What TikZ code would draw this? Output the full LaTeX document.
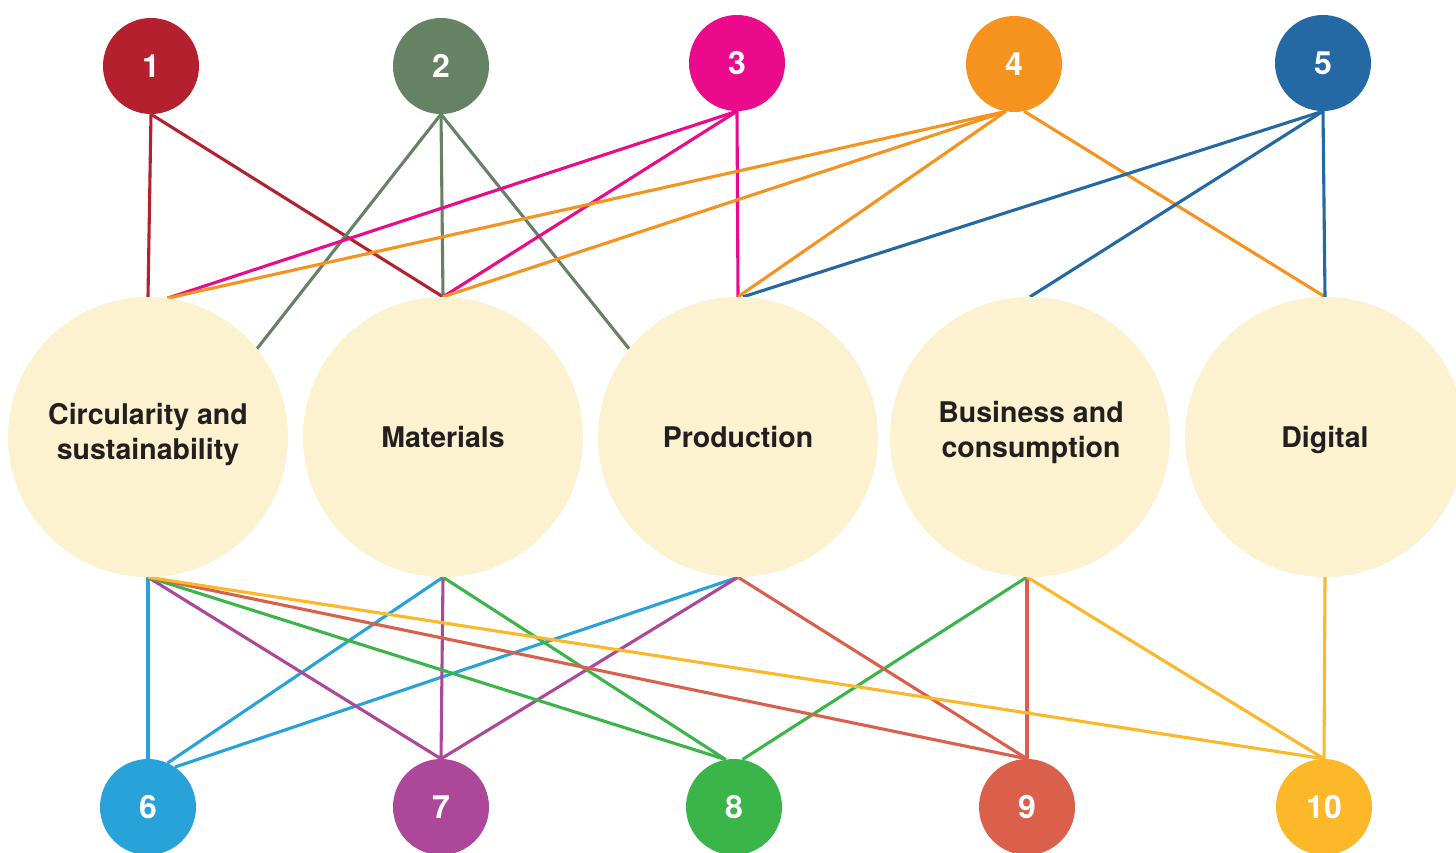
\documentclass[tikz,border=0pt]{standalone}
\usepackage{fontspec}
\setmainfont{TeX Gyre Heros}
\pgfdeclarelayer{bg}
\pgfsetlayers{bg,main}
\definecolor{c1}{HTML}{B5202E}
\definecolor{c2}{HTML}{668264}
\definecolor{c3}{HTML}{EC0A8C}
\definecolor{c4}{HTML}{F6921E}
\definecolor{c5}{HTML}{2468A4}
\definecolor{c6}{HTML}{29A2D9}
\definecolor{c7}{HTML}{AC4799}
\definecolor{c8}{HTML}{3BB44A}
\definecolor{c9}{HTML}{DA604C}
\definecolor{c10}{HTML}{FCB829}
\definecolor{cream}{HTML}{FCF2CF}
\definecolor{txt}{HTML}{231F20}
\tikzset{
  num/.style={circle, minimum size=96pt, inner sep=0pt, text=white,
    font=\fontsize{32}{32}\selectfont\bfseries},
  big/.style={circle, minimum size=280pt, inner sep=0pt, fill=cream},
  lbl/.style={text=txt, align=center, inner sep=0pt,
    font=\fontsize{28.5}{35}\selectfont\bfseries},
  link/.style={line width=3.1pt}
}
\begin{document}
\begin{tikzpicture}[x=1pt,y=-1pt]
\useasboundingbox (0,0) rectangle (1456,852);
% top numbered circles
\node[num, fill=c1] (t1) at (151,66) {1};
\node[num, fill=c2] (t2) at (441,66) {2};
\node[num, fill=c3] (t3) at (737,63) {3};
\node[num, fill=c4] (t4) at (1014,64) {4};
\node[num, fill=c5] (t5) at (1323,63) {5};
% big theme circles
\node[big] (circ) at (148,437) {};
\node[big] (mat) at (443,437) {};
\node[big] (prod) at (738,437) {};
\node[big] (bus) at (1030,437) {};
\node[big] (dig) at (1325,437) {};
\node[lbl] (circT) at (148,434.5) {Circularity and\\sustainability};
\node[lbl] (matT) at (443,437.5) {Materials};
\node[lbl] (prodT) at (738,437.5) {Production};
\node[lbl] (busT) at (1031,432.5) {Business and\\consumption};
\node[lbl] (digT) at (1325,440) {Digital};
% bottom numbered circles
\node[num, fill=c6] (n6) at (148,807) {6};
\node[num, fill=c7] (n7) at (441,807) {7};
\node[num, fill=c8] (n8) at (734,807) {8};
\node[num, fill=c9] (n9) at (1027,807) {9};
\node[num, fill=c10] (n10) at (1324,807) {10};
\coordinate (busS) at (1027,577);
\begin{pgfonlayer}{bg}
\fill[white] (0,0) rectangle (1456,852);
% top links
\draw[link, c1] (t1.south) -- (circ.north);
\draw[link, c1] (t1.south) -- (mat.north);
\draw[link, c2] (t2.south) -- (circ.39);
\draw[link, c2] (t2.south) -- (mat.north);
\draw[link, c2] (t2.south) -- (prod.141);
\draw[link, c3] (t3.south) -- (circ.82);
\draw[link, c3] (t3.south) -- (mat.north);
\draw[link, c3] (t3.south) -- (prod.north);
\draw[link, c4] (t4.-100) -- (circ.82);
\draw[link, c4] (t4.-100) -- (mat.north);
\draw[link, c4] (t4.-100) -- (prod.north);
\draw[link, c4] (t4.-78) -- (dig.north);
\draw[link, c5] (t5.south) -- (prod.88);
\draw[link, c5] (t5.south) -- (bus.north);
\draw[link, c5] (t5.south) -- (dig.north);
% bottom links
\draw[link, c6] (circ.south) -- (n6.north);
\draw[link, c6] (mat.south) -- (n6.66);
\draw[link, c6] (prod.south) -- (n6.56);
\draw[link, c7] (circ.south) -- (n7.north);
\draw[link, c7] (mat.south) -- (n7.north);
\draw[link, c7] (prod.south) -- (n7.north);
\draw[link, c8] (circ.south) -- (n8.100);
\draw[link, c8] (mat.south) -- (n8.100);
\draw[link, c8] (busS) -- (n8.80);
\draw[link, c9] (circ.south) -- (n9.north);
\draw[link, c9] (prod.south) -- (n9.north);
\draw[link, c9] (busS) -- (n9.north);
\draw[link, c10] (circ.south) -- (n10.north);
\draw[link, c10] (busS) -- (n10.north);
\draw[link, c10] (dig.south) -- (n10.north);
\end{pgfonlayer}
\end{tikzpicture}
\end{document}
